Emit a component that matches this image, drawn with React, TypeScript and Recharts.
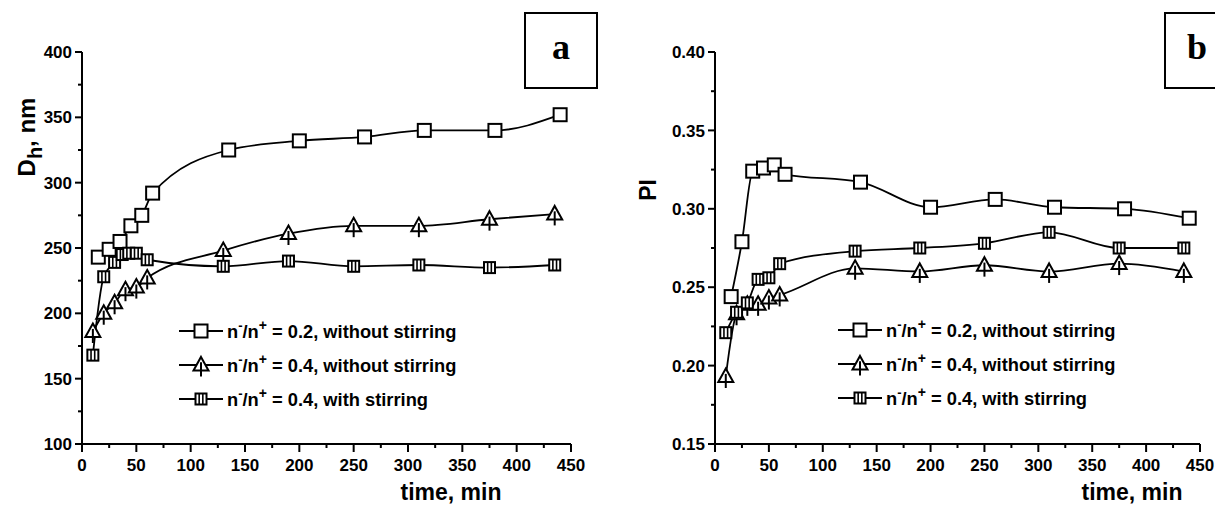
import React from 'react';
import { LineChart, Line, XAxis, YAxis, Legend } from 'recharts';

// ---------- data: panel a (Dh, nm) ----------
const timeA1 = [15, 25, 35, 45, 55, 65, 135, 200, 260, 315, 380, 440];
const dhA1 = [243, 249, 255, 267, 275, 292, 325, 332, 335, 340, 340, 352];
const timeA2 = [10, 20, 30, 40, 50, 60, 130, 190, 250, 310, 375, 435];
const dhA2 = [186, 200, 208, 218, 220, 227, 248, 261, 267, 267, 272, 276];
const timeA3 = [10, 20, 30, 37, 43, 50, 60, 130, 190, 250, 310, 375, 435];
const dhA3 = [168, 228, 239, 245, 246, 246, 241, 236, 240, 236, 237, 235, 237];

// ---------- data: panel b (PI) ----------
const timeB1 = [15, 25, 35, 45, 55, 65, 135, 200, 260, 315, 380, 440];
const piB1 = [0.244, 0.279, 0.324, 0.326, 0.328, 0.322, 0.317, 0.301, 0.306, 0.301, 0.3, 0.294];
const timeB2 = [10, 20, 30, 40, 50, 60, 130, 190, 250, 310, 375, 435];
const piB2 = [0.193, 0.233, 0.239, 0.239, 0.243, 0.245, 0.262, 0.26, 0.264, 0.26, 0.265, 0.26];
const timeB3 = [10, 20, 30, 40, 50, 60, 130, 190, 250, 310, 375, 435];
const piB3 = [0.221, 0.234, 0.24, 0.255, 0.256, 0.265, 0.273, 0.275, 0.278, 0.285, 0.275, 0.275];

// ---------- ticks & labels ----------
const xTicks = [0, 25, 50, 75, 100, 125, 150, 175, 200, 225, 250, 275, 300, 325, 350, 375, 400, 425, 450];
const xMajor = [0, 50, 100, 150, 200, 250, 300, 350, 400, 450];
const yTicksA = [100, 125, 150, 175, 200, 225, 250, 275, 300, 325, 350, 375, 400];
const yMajorA = [100, 150, 200, 250, 300, 350, 400];
const yTicksB = [0.15, 0.175, 0.2, 0.225, 0.25, 0.275, 0.3, 0.325, 0.35, 0.375, 0.4];
const yMajorB = [0.15, 0.2, 0.25, 0.3, 0.35, 0.4];

const seriesNames = ['0.2, without stirring', '0.4, without stirring', '0.4, with stirring'];
const xTitle = 'time, min';
const panelLetters = ['a', 'b'];

const zip = (ts: number[], vs: number[]) => ts.map((t, i) => ({ t, v: vs[i] }));

const FONT = '"Liberation Sans", Arial, Helvetica, sans-serif';
const SERIF = '"Liberation Serif", "Times New Roman", serif';

// ---------- markers ----------
const OpenSquare = ({ cx, cy, s = 13 }: any) => (
  <rect x={cx - s / 2} y={cy - s / 2} width={s} height={s} fill="#fff" stroke="#000" strokeWidth={2} />
);
const Triangle = ({ cx, cy, s = 15 }: any) => {
  const h = s * 0.9;
  return (
    <g>
      <path
        d={`M${cx},${cy - h * 0.6} L${cx + s / 2},${cy + h * 0.4} L${cx - s / 2},${cy + h * 0.4} Z`}
        fill="#fff"
        stroke="#000"
        strokeWidth={2}
      />
      <line x1={cx} x2={cx} y1={cy - h * 0.2} y2={cy + h * 0.4 + 6} stroke="#000" strokeWidth={2} />
    </g>
  );
};
const BarSquare = ({ cx, cy, s = 11 }: any) => (
  <g>
    <rect x={cx - s / 2} y={cy - s / 2} width={s} height={s} fill="#fff" stroke="#000" strokeWidth={2} />
    <line x1={cx - s / 6} x2={cx - s / 6} y1={cy - s / 2} y2={cy + s / 2} stroke="#000" strokeWidth={1.6} />
    <line x1={cx + s / 6} x2={cx + s / 6} y1={cy - s / 2} y2={cy + s / 2} stroke="#000" strokeWidth={1.6} />
  </g>
);
const markers = [OpenSquare, Triangle, BarSquare];

const dotFn = (M: any) => (p: any) => <M key={`d-${p.index}`} cx={p.cx} cy={p.cy} />;

// ---------- ticks ----------
const makeYTick = (majors: number[], fmt: (v: number) => string) => (props: any) => {
  const { x, y, payload } = props;
  const v = payload.value;
  const major = majors.some((m) => Math.abs(m - v) < 1e-9);
  return (
    <g>
      <line x1={x - (major ? 7 : 4)} x2={x} y1={y} y2={y} stroke="#000" strokeWidth={2} />
      {major && (
        <text x={x - 10} y={y} dy="0.36em" textAnchor="end" fontFamily={FONT} fontWeight="bold" fontSize={17} fill="#000">
          {fmt(v)}
        </text>
      )}
    </g>
  );
};
const XTick = (props: any) => {
  const { x, y, payload } = props;
  const v = payload.value;
  const major = xMajor.includes(v);
  return (
    <g>
      <line x1={x} x2={x} y1={y} y2={y + (major ? 8 : 4)} stroke="#000" strokeWidth={2} />
      {major && (
        <text x={x} y={y + 27} textAnchor="middle" fontFamily={FONT} fontWeight="bold" fontSize={17} fill="#000">
          {v}
        </text>
      )}
    </g>
  );
};

// ---------- legend ----------
const LegendRows = ({ dx }: { dx: number }) => (
  <svg width={340} height={110} style={{ overflow: 'visible' }}>
    {seriesNames.map((name, i) => {
      const M = markers[i];
      const y = 17 + i * 34;
      return (
        <g key={name}>
          <line x1={0} x2={44} y1={y} y2={y} stroke="#000" strokeWidth={2} />
          <M cx={22} cy={y} />
          <text x={dx} y={y} dy="0.36em" fontFamily={FONT} fontWeight="bold" fontSize={18.3} fill="#000">
            <tspan>n</tspan>
            <tspan dy={-8} fontSize={13}>-</tspan>
            <tspan dy={8}>/n</tspan>
            <tspan dy={-8} fontSize={14}>+</tspan>
            <tspan dy={8}>{` = ${name}`}</tspan>
          </text>
        </g>
      );
    })}
  </svg>
);

const W = 1215;
const H = 507;

export default function App() {
  return (
    <div style={{ position: 'absolute', left: 0, top: 0, width: W, height: H, background: '#fff' }}>
      {/* panel a */}
      <div style={{ position: 'absolute', left: 0, top: 0 }}>
        <LineChart width={600} height={H} margin={{ top: 52, right: 29, bottom: 33, left: 0 }}>
          <XAxis
            dataKey="t"
            type="number"
            domain={[0, 450]}
            ticks={xTicks}
            interval={0}
            height={30}
            tickSize={0}
            tickMargin={0}
            tickLine={false}
            tick={XTick}
            axisLine={{ stroke: '#000', strokeWidth: 2 }}
            allowDataOverflow
          />
          <YAxis
            dataKey="v"
            type="number"
            domain={[100, 400]}
            ticks={yTicksA}
            interval={0}
            width={82}
            tickSize={0}
            tickMargin={0}
            tickLine={false}
            tick={makeYTick(yMajorA, (v) => String(v))}
            axisLine={{ stroke: '#000', strokeWidth: 2 }}
            allowDataOverflow
          />
          <Legend
            layout="horizontal"
            verticalAlign="middle"
            align="center"
            wrapperStyle={{ position: 'absolute', left: 179, top: 314, width: 340, height: 110 }}
            content={() => <LegendRows dx={48} />}
          />
          <Line data={zip(timeA1, dhA1)} dataKey="v" type="monotone" stroke="#000" strokeWidth={1.8} dot={dotFn(OpenSquare)} isAnimationActive={false} />
          <Line data={zip(timeA2, dhA2)} dataKey="v" type="monotone" stroke="#000" strokeWidth={1.8} dot={dotFn(Triangle)} isAnimationActive={false} />
          <Line data={zip(timeA3, dhA3)} dataKey="v" type="monotone" stroke="#000" strokeWidth={1.8} dot={dotFn(BarSquare)} isAnimationActive={false} />
        </LineChart>
      </div>

      {/* panel b */}
      <div style={{ position: 'absolute', left: 600, top: 0 }}>
        <LineChart width={615} height={H} margin={{ top: 52, right: 15, bottom: 33, left: 0 }}>
          <XAxis
            dataKey="t"
            type="number"
            domain={[0, 450]}
            ticks={xTicks}
            interval={0}
            height={30}
            tickSize={0}
            tickMargin={0}
            tickLine={false}
            tick={XTick}
            axisLine={{ stroke: '#000', strokeWidth: 2 }}
            allowDataOverflow
          />
          <YAxis
            dataKey="v"
            type="number"
            domain={[0.15, 0.4]}
            ticks={yTicksB}
            interval={0}
            width={115}
            tickSize={0}
            tickMargin={0}
            tickLine={false}
            tick={makeYTick(yMajorB, (v) => v.toFixed(2))}
            axisLine={{ stroke: '#000', strokeWidth: 2 }}
            allowDataOverflow
          />
          <Legend
            layout="horizontal"
            verticalAlign="middle"
            align="center"
            wrapperStyle={{ position: 'absolute', left: 238, top: 313, width: 340, height: 110 }}
            content={() => <LegendRows dx={48} />}
          />
          <Line data={zip(timeB1, piB1)} dataKey="v" type="monotone" stroke="#000" strokeWidth={1.8} dot={dotFn(OpenSquare)} isAnimationActive={false} />
          <Line data={zip(timeB2, piB2)} dataKey="v" type="monotone" stroke="#000" strokeWidth={1.8} dot={dotFn(Triangle)} isAnimationActive={false} />
          <Line data={zip(timeB3, piB3)} dataKey="v" type="monotone" stroke="#000" strokeWidth={1.8} dot={dotFn(BarSquare)} isAnimationActive={false} />
        </LineChart>
      </div>

      {/* titles and panel letters */}
      <svg width={W} height={H} style={{ position: 'absolute', left: 0, top: 0, pointerEvents: 'none' }}>
        <text transform="translate(35,137) rotate(-90)" textAnchor="middle" fontFamily={FONT} fontWeight="bold" fontSize={24} fill="#000">
          <tspan>D</tspan>
          <tspan dy={7} fontSize={20}>h</tspan>
          <tspan dy={-7}>, nm</tspan>
        </text>
        <text transform="translate(656,190) rotate(-90)" textAnchor="middle" fontFamily={FONT} fontWeight="bold" fontSize={23} fill="#000">
          PI
        </text>
        <text x={451} y={500} textAnchor="middle" fontFamily={FONT} fontWeight="bold" fontSize={23} fill="#000">
          {xTitle}
        </text>
        <text x={1132} y={500} textAnchor="middle" fontFamily={FONT} fontWeight="bold" fontSize={23} fill="#000">
          {xTitle}
        </text>
        <rect x={525} y={13} width={72} height={75} fill="#fff" stroke="#000" strokeWidth={2} />
        <text x={561} y={59} textAnchor="middle" fontFamily={SERIF} fontWeight="bold" fontSize={36} fill="#000">
          {panelLetters[0]}
        </text>
        <rect x={1165} y={13} width={60} height={75} fill="#fff" stroke="#000" strokeWidth={2} />
        <text x={1197} y={59} textAnchor="middle" fontFamily={SERIF} fontWeight="bold" fontSize={36} fill="#000">
          {panelLetters[1]}
        </text>
      </svg>
    </div>
  );
}
